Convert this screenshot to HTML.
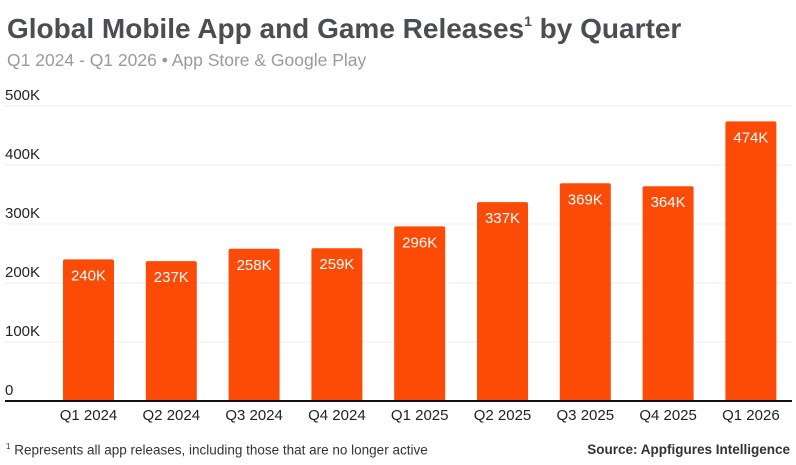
<!DOCTYPE html>
<html><head><meta charset="utf-8"><style>
body{margin:0;width:796px;height:465px;background:#fff;font-family:"Liberation Sans",sans-serif;overflow:hidden;position:relative}
.t{position:absolute;left:7px;top:13px;font-size:28px;font-weight:bold;color:#4a4d52;letter-spacing:0px}
.t sup{font-size:14px;vertical-align:12px}
.s{position:absolute;left:7px;top:50px;font-size:17.5px;color:#9a9a9a}
.f{position:absolute;left:6px;top:442px;font-size:13.5px;color:#333}
.src{position:absolute;right:6px;top:442px;font-size:13.5px;font-weight:bold;color:#333}
</style></head><body>
<div class="t">Global Mobile App and Game Releases<sup>1</sup> by Quarter</div>
<div class="s">Q1 2024 - Q1 2026 • App Store &amp; Google Play</div>
<svg id="c" width="796" height="465" style="position:absolute;left:0;top:0"></svg>
<div class="f"><sup style="font-size:8px">1</sup> Represents all app releases, including those that are no longer active</div>
<div class="src">Source: Appfigures Intelligence</div>
<script>
const categories=["Q1 2024","Q2 2024","Q3 2024","Q4 2024","Q1 2025","Q2 2025","Q3 2025","Q4 2025","Q1 2026"];
const values=[240,237,258,259,296,337,369,364,474];
const valueLabels=["240K","237K","258K","259K","296K","337K","369K","364K","474K"];
const ticks=[0,100,200,300,400,500];
const tickLabels=["0","100K","200K","300K","400K","500K"];
const NS="http://www.w3.org/2000/svg",svg=document.getElementById('c');
const y=v=>401-v*0.59;
const x=i=>88.5+i*82.8;
function mk(t,a,txt){const e=document.createElementNS(NS,t);for(const k in a)e.setAttribute(k,a[k]);if(txt!=null)e.textContent=txt;svg.appendChild(e);return e;}
ticks.forEach((t,i)=>{
 if(t>0){const g=mk('line',{x1:5,x2:792,y1:y(t),y2:y(t),stroke:'#ececec','stroke-width':1});
 
 }
 const l=mk('text',{x:5,y:y(t)-6,'font-size':15,fill:'#222'},tickLabels[i]);
 
 
});
values.forEach((v,i)=>{
 const b=mk('rect',{x:x(i)-25.5,y:y(v),width:51,height:401-y(v),rx:2,fill:'#fc4a07'});
 
 
 const vl=mk('text',{x:x(i),y:y(v)+21,'text-anchor':'middle','font-size':15,fill:'#fff'},valueLabels[i]);
 
 
 const xl=mk('text',{x:x(i),y:420,'text-anchor':'middle','font-size':15,fill:'#222'},categories[i]);
 
 
});
const ax=mk('line',{x1:5,x2:792,y1:401,y2:401,stroke:'#111','stroke-width':2});


</script>
</body></html>
